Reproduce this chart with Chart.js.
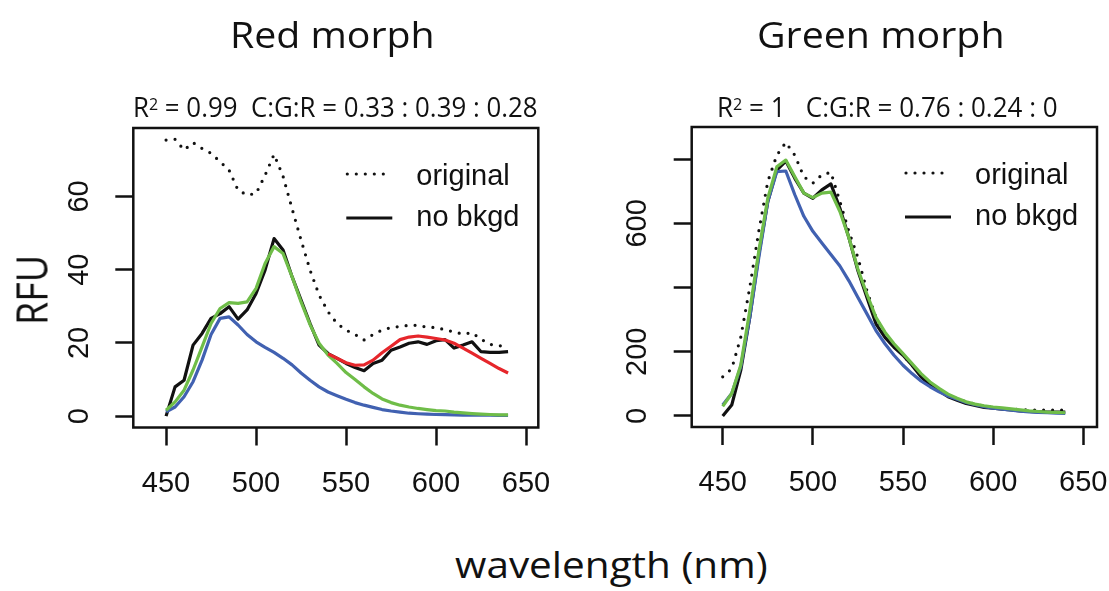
<!DOCTYPE html>
<html>
<head>
<meta charset="utf-8">
<script src="https://cdn.jsdelivr.net/npm/chart.js@4.4.1/dist/chart.umd.min.js"></script>
<style>
html, body { margin: 0; padding: 0; background: #fff; }
#page { position: relative; width: 1109px; height: 591px; overflow: hidden; background: #fff; }
#page canvas { position: absolute; top: 0; }
.lbl { position: absolute; white-space: pre; font-family: "Open Sans", sans-serif; line-height: 1; color: #111; transform-origin: 0 0; }
.lbl sup { font-size: 0.62em; vertical-align: 0.42em; line-height: 0; }
</style>
</head>
<body>
<div id="page">
  <canvas id="redChart" width="560" height="520" style="left:0"></canvas>
  <canvas id="greenChart" width="549" height="520" style="left:560px"></canvas>
  <div class="lbl" id="titleRed">Red morph</div>
  <div class="lbl" id="titleGreen">Green morph</div>
  <div class="lbl" id="subRed">R<sup>2</sup> = 0.99  C:G:R = 0.33 : 0.39 : 0.28</div>
  <div class="lbl" id="subGreen">R<sup>2</sup> = 1   C:G:R = 0.76 : 0.24 : 0</div>
  <div class="lbl" id="yTitle">RFU</div>
  <div class="lbl" id="xTitle">wavelength (nm)</div>
</div>
<script>
// wavelengths (nm)
const wavelength = [450, 455, 460, 465, 470, 475, 480, 485, 490, 495, 500, 505, 510, 515, 520,
  525, 530, 535, 540, 545, 550, 555, 560, 565, 570, 575, 580, 585, 590, 595, 600, 605, 610,
  615, 620, 625, 630, 635, 640];

// Red morph
const redOriginal = [75.4, 75.6, 72.7, 74.7, 73.1, 71.8, 69.5, 67.2, 61.7, 60.4, 60.8, 65.8, 71.5,
  65.5, 56.7, 48.1, 39.9, 33.1, 28.5, 25.3, 23.5, 22.3, 20.8, 22.3, 23.5, 24.2, 24.5, 24.8, 24.8,
  24.3, 24.2, 23.6, 23.0, 22.4, 22.8, 21.0, 19.6, 19.2, 19.2];
const redNoBkgd = [0, 8.0, 9.8, 19.4, 22.6, 26.7, 28.0, 29.9, 26.5, 29.0, 33.5, 39.9, 48.5, 45.4,
  38.1, 31.7, 25.3, 19.4, 17.1, 15.8, 14.4, 13.3, 12.4, 14.4, 15.3, 18.0, 18.9, 19.9, 20.3, 19.6,
  20.6, 20.9, 18.6, 19.4, 20.3, 17.6, 17.4, 17.4, 17.6];
const redCyan = [1.2, 2.5, 5.3, 9.4, 15.3, 22.3, 26.7, 27.1, 24.9, 22.3, 20.3, 18.8, 17.4, 15.8,
  14.0, 11.8, 9.8, 8.0, 6.6, 5.6, 4.6, 3.7, 3.0, 2.4, 1.8, 1.4, 1.1, 0.8, 0.65, 0.55, 0.45, 0.4,
  0.35, 0.3, 0.3, 0.25, 0.25, 0.2, 0.2];
const redGreen = [1.6, 3.9, 7.1, 12.6, 18.9, 25.3, 29.4, 31.0, 30.8, 31.2, 34.9, 41.7, 46.3, 44.4,
  38.1, 31.2, 25.0, 19.9, 16.7, 14.4, 11.9, 10.0, 8.0, 6.2, 4.7, 3.7, 3.0, 2.5, 2.1, 1.8, 1.5, 1.4,
  1.1, 0.9, 0.7, 0.55, 0.45, 0.36, 0.36];
const redRed = [null, null, null, null, null, null, null, null, null, null, null, null, null, null,
  null, null, null, null, 17.0, 15.8, 14.6, 13.9, 14.0, 15.3, 17.3, 19.1, 20.9, 21.6, 21.9, 21.6,
  21.2, 20.8, 19.9, 18.6, 17.2, 15.8, 14.4, 13.0, 11.8];

// Green morph
const greenOriginal = [122, 147, 245, 400, 575, 730, 812, 852, 812, 745, 725, 751, 759, 668, 575,
  493, 390, 307, 256, 220, 189, 158, 132, 101, 80, 65, 54, 44, 37, 31, 27, 24, 22, 20, 19, 18, 18,
  18, 18];
const greenNoBkgd = [0, 34, 142, 307, 503, 668, 766, 794, 740, 694, 678, 704, 723, 647, 555, 452,
  369, 287, 245, 214, 189, 158, 122, 96, 78, 60, 49, 39, 33, 27, 24, 21, 19, 16, 14, 13, 12, 12, 12];
const greenCyan = [34, 70, 153, 307, 493, 668, 761, 763, 689, 622, 575, 539, 503, 467, 421, 369,
  318, 266, 225, 189, 158, 132, 109, 91, 75, 62, 52, 42, 35, 29, 24, 21, 18, 15, 13, 11, 10, 9, 8];
const greenGreen = [30, 70, 158, 328, 513, 678, 776, 797, 745, 694, 680, 694, 697, 637, 555, 457,
  379, 307, 261, 225, 194, 163, 132, 106, 86, 68, 55, 44, 37, 32, 28, 25, 22, 19, 16, 14, 12, 11, 10];

// axes
const xTicks = [450, 500, 550, 600, 650];
const redYTicks = [0, 20, 40, 60];
const redYLabels = ['0', '20', '40', '60'];
const greenYTicks = [0, 200, 400, 600, 800];
const greenYLabels = ['0', '200', '', '600', ''];   // R drops the labels that would collide
const legendLabels = ['original', 'no bkgd'];

const BLACK = '#111111';
const BLUE = '#4161b1';
const GREEN = '#6fbd48';
const RED = '#e6262b';
const DOTS = [0, 9];

const framePlugin = {
  id: 'frame',
  afterDatasetsDraw(chart) {
    const ctx = chart.ctx;
    const a = chart.chartArea;
    ctx.save();
    ctx.strokeStyle = BLACK;
    ctx.lineWidth = 2.5;
    ctx.strokeRect(a.left, a.top, a.right - a.left, a.bottom - a.top);

    // legend, top right inside the box
    const x1 = a.right - 192, x2 = a.right - 146, tx = a.right - 122;
    ctx.lineWidth = 3.2;
    ctx.lineCap = 'round';
    ctx.setLineDash(DOTS);
    ctx.beginPath();
    ctx.moveTo(x1 + 1, a.top + 46);
    ctx.lineTo(x2, a.top + 46);
    ctx.stroke();
    ctx.setLineDash([]);
    ctx.lineCap = 'butt';
    ctx.beginPath();
    ctx.moveTo(x1, a.top + 90);
    ctx.lineTo(x2, a.top + 90);
    ctx.stroke();
    ctx.fillStyle = BLACK;
    ctx.font = '29px "Liberation Sans", Arial, sans-serif';
    ctx.textBaseline = 'alphabetic';
    ctx.textAlign = 'left';
    ctx.fillText(legendLabels[0], tx, a.top + 57);
    ctx.fillText(legendLabels[1], tx, a.top + 98);
    ctx.restore();
  }
};

function series(values, color, dash) {
  return {
    data: wavelength.map((w, i) => ({ x: w, y: values[i] })),
    borderColor: color,
    borderWidth: 3.2,
    borderDash: dash || [],
    borderCapStyle: dash ? 'round' : 'butt',
    borderJoinStyle: 'round',
    pointRadius: 0,
    tension: 0,
    fill: false,
    spanGaps: false
  };
}

function makeChart(id, cfg) {
  const ctx = document.getElementById(id).getContext('2d');
  return new Chart(ctx, {
    type: 'line',
    data: { datasets: cfg.datasets },
    options: {
      responsive: false,
      animation: false,
      devicePixelRatio: 1,
      layout: { padding: { top: cfg.top, right: cfg.right, left: 0, bottom: 0 } },
      plugins: { legend: { display: false }, tooltip: { enabled: false } },
      scales: {
        x: {
          type: 'linear',
          min: cfg.xMin,
          max: cfg.xMax,
          afterBuildTicks: s => { s.ticks = xTicks.map(v => ({ value: v })); },
          afterFit: s => { s.height = cfg.xHeight; s.paddingLeft = 0; s.paddingRight = 0; },
          grid: { drawOnChartArea: false, drawTicks: true, tickLength: 18, tickWidth: 2.5, tickColor: BLACK },
          border: { display: false },
          ticks: {
            autoSkip: false, maxRotation: 0, minRotation: 0, padding: 21, color: BLACK,
            font: { family: '"Liberation Sans", Arial, sans-serif', size: 29 }
          }
        },
        y: {
          type: 'linear',
          min: cfg.yMin,
          max: cfg.yMax,
          afterBuildTicks: s => { s.ticks = cfg.yTicks.map(v => ({ value: v })); },
          afterFit: s => { s.width = cfg.yWidth; s.paddingTop = 0; s.paddingBottom = 0; },
          grid: { drawOnChartArea: false, drawTicks: true, tickLength: 18, tickWidth: 2.5, tickColor: BLACK },
          border: { display: false },
          ticks: {
            autoSkip: false, minRotation: 90, maxRotation: 90, crossAlign: 'center',
            padding: cfg.yPad, color: BLACK,
            font: { family: '"Liberation Sans", Arial, sans-serif', size: 29 },
            callback: (v, i) => cfg.yLabels[i]
          }
        }
      }
    },
    plugins: [framePlugin]
  });
}

makeChart('redChart', {
  datasets: [
    series(redRed, RED),
    series(redGreen, GREEN),
    series(redCyan, BLUE),
    series(redNoBkgd, BLACK),
    series(redOriginal, BLACK, DOTS)
  ],
  top: 128, right: 560 - 538.3, xHeight: 520 - 427.5, yWidth: 133.3,
  xMin: 431.8, xMax: 656.8, yMin: -3.1, yMax: 78.7,
  yTicks: redYTicks, yLabels: redYLabels, yPad: 19
});

makeChart('greenChart', {
  datasets: [
    series(greenGreen, GREEN),
    series(greenCyan, BLUE),
    series(greenNoBkgd, BLACK),
    series(greenOriginal, BLACK, DOTS)
  ],
  top: 127, right: 549 - 537, xHeight: 520 - 427, yWidth: 131.7,
  xMin: 432.8, xMax: 657.6, yMin: -34.3, yMax: 900,
  yTicks: greenYTicks, yLabels: greenYLabels, yPad: 12
});

// page titles, fitted to the widths measured on the figure
function placeText(id, left, width, baseline, size) {
  const el = document.getElementById(id);
  el.style.fontSize = size + 'px';
  el.style.left = left + 'px';
  el.style.top = (baseline - 0.888 * size) + 'px';
  const w = el.offsetWidth;
  el.style.transform = 'scaleX(' + (width / w) + ')';
}

function placeRotated(id, cx, cy, length, size) {
  const el = document.getElementById(id);
  el.style.fontSize = size + 'px';
  el.style.left = cx + 'px';
  el.style.top = cy + 'px';
  const w = el.offsetWidth;
  el.style.transform = 'rotate(-90deg) scaleX(' + (length / w) + ') translate(-50%, -50%)';
}

placeText('titleRed', 230, 205, 49, 36);
placeText('titleGreen', 757, 248, 49, 36);
placeText('subRed', 133, 405, 117, 27);
placeText('subGreen', 717, 341, 117, 27);
placeText('xTitle', 455, 313, 578, 37);
placeRotated('yTitle', 31, 290, 70, 43);
</script>
</body>
</html>
